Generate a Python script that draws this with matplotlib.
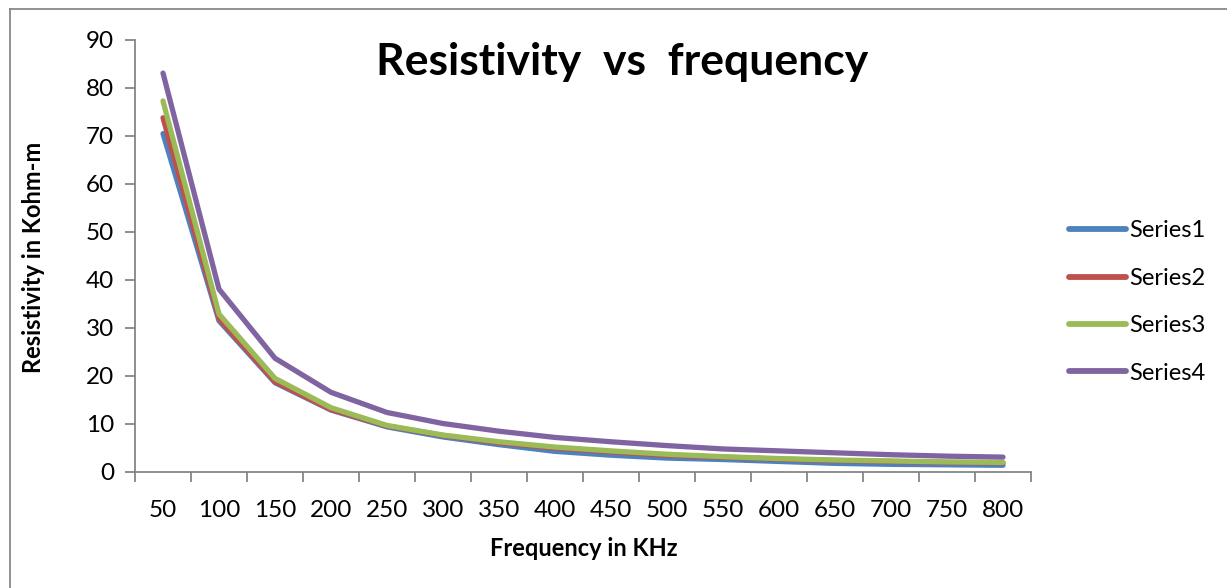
import numpy as np
import matplotlib.pyplot as plt
from matplotlib.lines import Line2D

plt.rcParams['font.family'] = ['Lato', 'DejaVu Sans']

freq = ['50', '100', '150', '200', '250', '300', '350', '400',
        '450', '500', '550', '600', '650', '700', '750', '800']
series1 = [70.5, 31.5, 18.6, 12.9, 9.4, 7.3, 5.7, 4.3, 3.5, 2.9, 2.6, 2.2, 1.8, 1.6, 1.5, 1.4]
series2 = [73.8, 31.9, 18.8, 13.0, 9.6, 7.6, 6.1, 5.0, 4.2, 3.5, 3.1, 2.7, 2.4, 2.2, 2.0, 1.9]
series3 = [77.3, 32.9, 19.5, 13.4, 9.7, 7.7, 6.3, 5.2, 4.4, 3.7, 3.2, 2.8, 2.5, 2.3, 2.1, 2.0]
series4 = [83.1, 38.1, 23.7, 16.6, 12.4, 10.1, 8.5, 7.2, 6.3, 5.5, 4.8, 4.4, 4.0, 3.6, 3.3, 3.1]
names = ['Series1', 'Series2', 'Series3', 'Series4']
colors = ['#4F81BD', '#C0504D', '#9BBB59', '#8064A2']

W, H = 1227, 588
fig = plt.figure(figsize=(W / 100, H / 100), dpi=100)
ax = fig.add_axes([135 / W, 1 - 472 / H, (1031 - 135) / W, (472 - 40) / H])

x = np.arange(len(freq))
for ys, c, n in zip([series1, series2, series3, series4], colors, names):
    ax.plot(x, ys, color=c, lw=3.8, label=n, solid_capstyle='round', solid_joinstyle='round')

ax.set_xlim(-0.5, len(freq) - 0.5)
ax.set_ylim(0, 90)
ax.set_yticks(np.arange(0, 91, 10))
ax.set_xticks(x)
ax.set_xticklabels(freq)
ax.set_xticks(np.arange(-0.5, len(freq), 1), minor=True)
ax.tick_params(axis='x', which='major', length=0, pad=20, labelsize=17.5)
ax.tick_params(axis='x', which='minor', length=7, width=1.3, color='#868686', direction='out')
ax.tick_params(axis='y', length=7, width=1.3, color='#868686', labelsize=17.5, pad=8)

for s in ['top', 'right']:
    ax.spines[s].set_visible(False)
for s in ['left', 'bottom']:
    ax.spines[s].set_color('#868686')
    ax.spines[s].set_linewidth(1.3)

fig.text(584 / W, 1 - 548 / H, 'Frequency in KHz', fontsize=17, fontweight='bold',
         ha='center', va='center')
fig.text(34 / W, 1 - 257 / H, 'Resistivity in Kohm-m', fontsize=17, fontweight='bold',
         ha='center', va='center', rotation=90)
fig.text(622 / W, 1 - 62 / H, 'Resistivity  vs  frequency', fontsize=32,
         fontweight='bold', ha='center', va='center')

handles = [Line2D([], [], color=c, lw=4.2, solid_capstyle='round') for c in colors]
fig.legend(handles, names, loc='center left', bbox_to_anchor=(1069 / W, 1 - 302 / H),
           frameon=False, fontsize=17, handlelength=2.4, handletextpad=0.15,
           labelspacing=1.12, borderpad=0, borderaxespad=0)

# chart border (top and left edges visible in the crop)
fig.add_artist(Line2D([10 / W, 10 / W], [0, 1 - 9 / H], color='#888888', lw=1.3))
fig.add_artist(Line2D([10 / W, 1], [1 - 9 / H, 1 - 9 / H], color='#888888', lw=1.3))

fig.savefig('out.png', dpi=100)
